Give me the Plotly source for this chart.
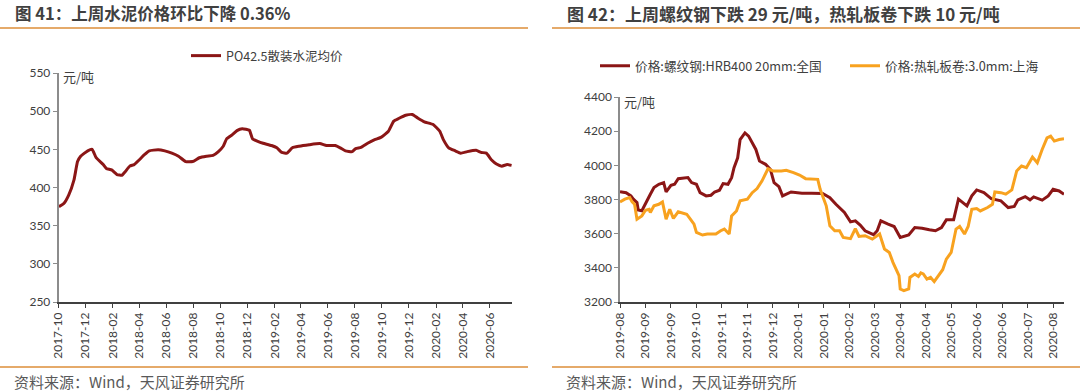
import plotly.graph_objects as go

W, H = 1080, 391

# ---------------- Chart 41: cement price ----------------
cement_dates = [
    "2017-10-02", "2017-10-13", "2017-10-24", "2017-11-05", "2017-11-13", "2017-11-20",
    "2017-12-06", "2017-12-16", "2017-12-25", "2018-01-10", "2018-01-17", "2018-01-29",
    "2018-02-10", "2018-02-21", "2018-03-01", "2018-03-11", "2018-03-21", "2018-04-01",
    "2018-04-13", "2018-04-24", "2018-05-14", "2018-05-29", "2018-06-14", "2018-06-29",
    "2018-07-15", "2018-07-31", "2018-08-15", "2018-08-31", "2018-09-15", "2018-09-27",
    "2018-10-08", "2018-10-16", "2018-10-28", "2018-11-08", "2018-11-20", "2018-12-06",
    "2018-12-13", "2018-12-25", "2019-01-06", "2019-01-25", "2019-02-06", "2019-02-17",
    "2019-03-01", "2019-03-13", "2019-03-28", "2019-04-20", "2019-05-14", "2019-05-29",
    "2019-06-18", "2019-06-29", "2019-07-11", "2019-07-26", "2019-08-03", "2019-08-15",
    "2019-08-30", "2019-09-15", "2019-09-30", "2019-10-16", "2019-10-28", "2019-11-08",
    "2019-11-24", "2019-12-09", "2019-12-21", "2020-01-05", "2020-01-25", "2020-02-09",
    "2020-02-17", "2020-02-29", "2020-03-15", "2020-03-27", "2020-04-11", "2020-05-01",
    "2020-05-12", "2020-05-24", "2020-06-05", "2020-06-16", "2020-06-28", "2020-07-10",
    "2020-07-20",
]
cement_values = [
    375, 379, 390, 410, 434, 441,
    448, 450, 439, 430, 425, 423,
    417, 416, 421, 428, 430, 436,
    443, 448, 449.5, 448, 445, 441,
    434, 434, 439, 441, 442, 447,
    454, 464, 469, 474.5, 477, 475,
    464, 460.5, 458, 455, 452, 446,
    445, 452, 454, 456, 457.5, 455,
    455, 452, 448, 447, 451, 452.6,
    458, 462.7, 466, 473.7, 487, 490.4,
    494.7, 495.6, 491, 486, 482.5, 473.7,
    462.7, 452, 448, 445, 447, 448.7,
    446, 445, 436, 430.7, 428, 430,
    429,
]

# ---------------- Chart 42: rebar & hot-rolled coil ----------------
rebar_dates = [
    "2019-08-15", "2019-08-20", "2019-08-24", "2019-08-26", "2019-08-29", "2019-08-30",
    "2019-09-02", "2019-09-05", "2019-09-09", "2019-09-12", "2019-09-16", "2019-09-20",
    "2019-09-22", "2019-09-26", "2019-09-29", "2019-10-02", "2019-10-10", "2019-10-13",
    "2019-10-17", "2019-10-20", "2019-10-25", "2019-10-29", "2019-11-01", "2019-11-05",
    "2019-11-08", "2019-11-12", "2019-11-15", "2019-11-17", "2019-11-20", "2019-11-22",
    "2019-11-26", "2019-11-29", "2019-12-02", "2019-12-05", "2019-12-08", "2019-12-13",
    "2019-12-17", "2019-12-20", "2019-12-24", "2019-12-27", "2020-01-03", "2020-01-12",
    "2020-01-20", "2020-01-29", "2020-02-04", "2020-02-09", "2020-02-16", "2020-02-21",
    "2020-02-25", "2020-02-29", "2020-03-04", "2020-03-11", "2020-03-14", "2020-03-17",
    "2020-03-23", "2020-03-28", "2020-04-02", "2020-04-09", "2020-04-14", "2020-04-20",
    "2020-04-26", "2020-05-01", "2020-05-06", "2020-05-10", "2020-05-16", "2020-05-20",
    "2020-05-27", "2020-05-31", "2020-06-04", "2020-06-10", "2020-06-16", "2020-06-24",
    "2020-06-30", "2020-07-05", "2020-07-08", "2020-07-14", "2020-07-18", "2020-07-21",
    "2020-07-28", "2020-08-02", "2020-08-06", "2020-08-11", "2020-08-15",
]
rebar_values = [
    3846, 3840, 3821, 3802, 3782, 3739,
    3734, 3772, 3831, 3870, 3889, 3899,
    3844, 3883, 3889, 3922, 3928, 3899,
    3889, 3840, 3821, 3825, 3844, 3854,
    3893, 3889, 3928, 3986, 4044, 4151,
    4190, 4171, 4132, 4093, 4025, 4006,
    3976, 3899, 3875, 3821, 3844, 3837,
    3837, 3835, 3811, 3772, 3724, 3669,
    3675, 3650, 3617, 3594, 3617, 3675,
    3656, 3642, 3578, 3592, 3636, 3632,
    3623, 3617, 3636, 3681, 3681, 3802,
    3763, 3821, 3856, 3840, 3805, 3792,
    3753, 3759, 3798, 3817, 3798, 3815,
    3796, 3821, 3860, 3850, 3831,
]

hrc_dates = [
    "2019-08-15", "2019-08-19", "2019-08-23", "2019-08-25", "2019-08-27", "2019-08-29",
    "2019-09-02", "2019-09-05", "2019-09-08", "2019-09-09", "2019-09-12", "2019-09-16",
    "2019-09-19", "2019-09-22", "2019-09-25", "2019-09-28", "2019-10-02", "2019-10-09",
    "2019-10-12", "2019-10-15", "2019-10-17", "2019-10-22", "2019-10-26", "2019-11-02",
    "2019-11-06", "2019-11-09", "2019-11-13", "2019-11-15", "2019-11-19", "2019-11-22",
    "2019-11-28", "2019-12-02", "2019-12-06", "2019-12-10", "2019-12-15", "2019-12-19",
    "2019-12-26", "2019-12-30", "2020-01-05", "2020-01-10", "2020-01-15", "2020-01-20",
    "2020-01-25", "2020-01-27", "2020-02-01", "2020-02-04", "2020-02-08", "2020-02-12",
    "2020-02-15", "2020-02-21", "2020-02-25", "2020-02-28", "2020-03-04", "2020-03-10",
    "2020-03-16", "2020-03-20", "2020-03-24", "2020-03-27", "2020-03-30", "2020-04-01",
    "2020-04-02", "2020-04-05", "2020-04-09", "2020-04-10", "2020-04-14", "2020-04-17",
    "2020-04-19", "2020-04-21", "2020-04-24", "2020-04-27", "2020-04-30", "2020-05-03",
    "2020-05-07", "2020-05-10", "2020-05-14", "2020-05-18", "2020-05-21", "2020-05-25",
    "2020-05-28", "2020-05-31", "2020-06-04", "2020-06-07", "2020-06-13", "2020-06-17",
    "2020-06-19", "2020-06-24", "2020-06-28", "2020-07-03", "2020-07-07", "2020-07-11",
    "2020-07-15", "2020-07-20", "2020-07-24", "2020-07-28", "2020-08-01", "2020-08-04",
    "2020-08-07", "2020-08-11", "2020-08-15",
]
hrc_values = [
    3786, 3802, 3811, 3786, 3772, 3685,
    3704, 3737, 3743, 3724, 3763, 3772,
    3786, 3685, 3743, 3689, 3728, 3714,
    3685, 3656, 3607, 3592, 3598, 3598,
    3617, 3627, 3598, 3704, 3733, 3792,
    3802, 3840, 3864, 3908, 3980, 3967,
    3967, 3971, 3957, 3943, 3922, 3918,
    3918, 3860, 3763, 3646, 3617, 3617,
    3578, 3571, 3630, 3584, 3588, 3568,
    3598, 3510, 3490, 3432, 3383, 3354,
    3276, 3266, 3276, 3344, 3364, 3350,
    3370, 3364, 3334, 3344, 3319, 3350,
    3389, 3451, 3490, 3627, 3642, 3598,
    3642, 3743, 3747, 3733, 3753, 3772,
    3844, 3840, 3831, 3856, 3967, 3996,
    3986, 4048, 4015, 4093, 4161, 4171,
    4142, 4151, 4155,
]

right_tick_dates = [
    "2019-08-15", "2019-09-05", "2019-09-26", "2019-10-17", "2019-11-07", "2019-11-28",
    "2019-12-19", "2020-01-09", "2020-01-30", "2020-02-20", "2020-03-12", "2020-04-02",
    "2020-04-23", "2020-05-14", "2020-06-04", "2020-06-25", "2020-07-16", "2020-08-06",
]
right_tick_labels = [
    "2019-08", "2019-09", "2019-09", "2019-10", "2019-11", "2019-11",
    "2019-12", "2020-01", "2020-01", "2020-02", "2020-03", "2020-04",
    "2020-04", "2020-05", "2020-06", "2020-06", "2020-07", "2020-08",
]

title_left = "图 41：上周水泥价格环比下降 0.36%"
title_right = "图 42：上周螺纹钢下跌 29 元/吨，热轧板卷下跌 10 元/吨"
source_text = "资料来源：Wind，天风证券研究所"
unit_text = "元/吨"

DARK_RED = "#8B1616"
ORANGE = "#F8A21F"
RULE = "#E5AA6A"
TXT = "#404040"
CJK = "Noto Sans CJK SC"
NUM = "Lato, Noto Sans CJK SC"


def px_x(p):
    return p / W


def px_y(p):
    return 1 - p / H


fig = go.Figure()
fig.add_trace(go.Scatter(
    x=cement_dates, y=cement_values, mode="lines", name="PO42.5散装水泥均价",
    line=dict(color=DARK_RED, width=3, shape="spline", smoothing=0.4),
    xaxis="x", yaxis="y", legend="legend",
))
fig.add_trace(go.Scatter(
    x=rebar_dates, y=rebar_values, mode="lines", name="价格:螺纹钢:HRB400 20mm:全国",
    line=dict(color=DARK_RED, width=3), xaxis="x2", yaxis="y2", legend="legend2",
))
fig.add_trace(go.Scatter(
    x=hrc_dates, y=hrc_values, mode="lines", name="价格:热轧板卷:3.0mm:上海",
    line=dict(color=ORANGE, width=3), xaxis="x2", yaxis="y2", legend="legend2",
))

axis_common = dict(
    showgrid=False, zeroline=False, showline=True, ticks="outside", ticklen=4,
    automargin=False, tickfont=dict(family=NUM, size=12, color=TXT),
)

fig.update_layout(
    width=W, height=H, margin=dict(l=0, r=0, t=0, b=0, autoexpand=False),
    paper_bgcolor="white", plot_bgcolor="white",
    xaxis=dict(
        domain=[px_x(58.5), px_x(512)], type="date", anchor="y",
        range=["2017-10-01", "2020-07-21"], tick0="2017-10-01", dtick="M2",
        tickformat="%Y-%m", tickangle=-90, linecolor="#404040", tickcolor="#404040",
        linewidth=1.5, **axis_common,
    ),
    yaxis=dict(
        domain=[px_y(302), px_y(73)], anchor="x", range=[250, 550], dtick=50,
        linecolor="#8c8c8c", tickcolor="#8c8c8c", linewidth=1.5, **axis_common,
    ),
    xaxis2=dict(
        domain=[px_x(620), px_x(1064)], type="date", anchor="y2",
        range=["2019-08-15", "2020-08-15"], tickvals=right_tick_dates,
        ticktext=right_tick_labels, tickangle=-90, linecolor="#404040",
        tickcolor="#404040", linewidth=1.5, **axis_common,
    ),
    yaxis2=dict(
        domain=[px_y(302), px_y(97)], anchor="x2", range=[3200, 4400], dtick=200,
        linecolor="#8c8c8c", tickcolor="#8c8c8c", linewidth=1.5, **axis_common,
    ),
    legend=dict(
        x=px_x(267), xanchor="center", y=px_y(56), yanchor="middle",
        orientation="h", font=dict(family=CJK, size=12.5, color=TXT),
        bgcolor="rgba(0,0,0,0)",
    ),
    legend2=dict(
        x=px_x(845), xanchor="center", y=px_y(66), yanchor="middle",
        orientation="h", font=dict(family=CJK, size=12.7, color=TXT),
        bgcolor="rgba(0,0,0,0)", entrywidth=205,
    ),
    showlegend=True,
)

annotations = [
    dict(text=f"<b>{title_left}</b>", x=px_x(13), y=px_y(13), xanchor="left",
         yanchor="middle", font=dict(family=CJK, size=16.5, color=TXT)),
    dict(text=f"<b>{title_right}</b>", x=px_x(565), y=px_y(13), xanchor="left",
         yanchor="middle", font=dict(family=CJK, size=17, color=TXT)),
    dict(text=source_text, x=px_x(12), y=px_y(381), xanchor="left", yanchor="middle",
         font=dict(family=CJK, size=15, color="#595959")),
    dict(text=source_text, x=px_x(564), y=px_y(381), xanchor="left", yanchor="middle",
         font=dict(family=CJK, size=15, color="#595959")),
    dict(text=unit_text, x=px_x(61), y=px_y(77), xanchor="left", yanchor="middle",
         font=dict(family=CJK, size=13, color=TXT)),
    dict(text=unit_text, x=px_x(622), y=px_y(101), xanchor="left", yanchor="middle",
         font=dict(family=CJK, size=13, color=TXT)),
]
for a in annotations:
    a.update(xref="paper", yref="paper", showarrow=False)
fig.update_layout(annotations=annotations)

shapes = []
for (x0, x1) in [(0, 528), (552, 1080)]:
    for yy in [28, 367]:
        shapes.append(dict(type="line", xref="paper", yref="paper",
                           x0=px_x(x0), x1=px_x(x1), y0=px_y(yy), y1=px_y(yy),
                           line=dict(color=RULE, width=2)))
fig.update_layout(shapes=shapes)

fig.write_html(
    "out.html",
    config={"displayModeBar": False},
    post_script="document.body.style.margin='0';document.body.style.overflow='hidden';",
)
